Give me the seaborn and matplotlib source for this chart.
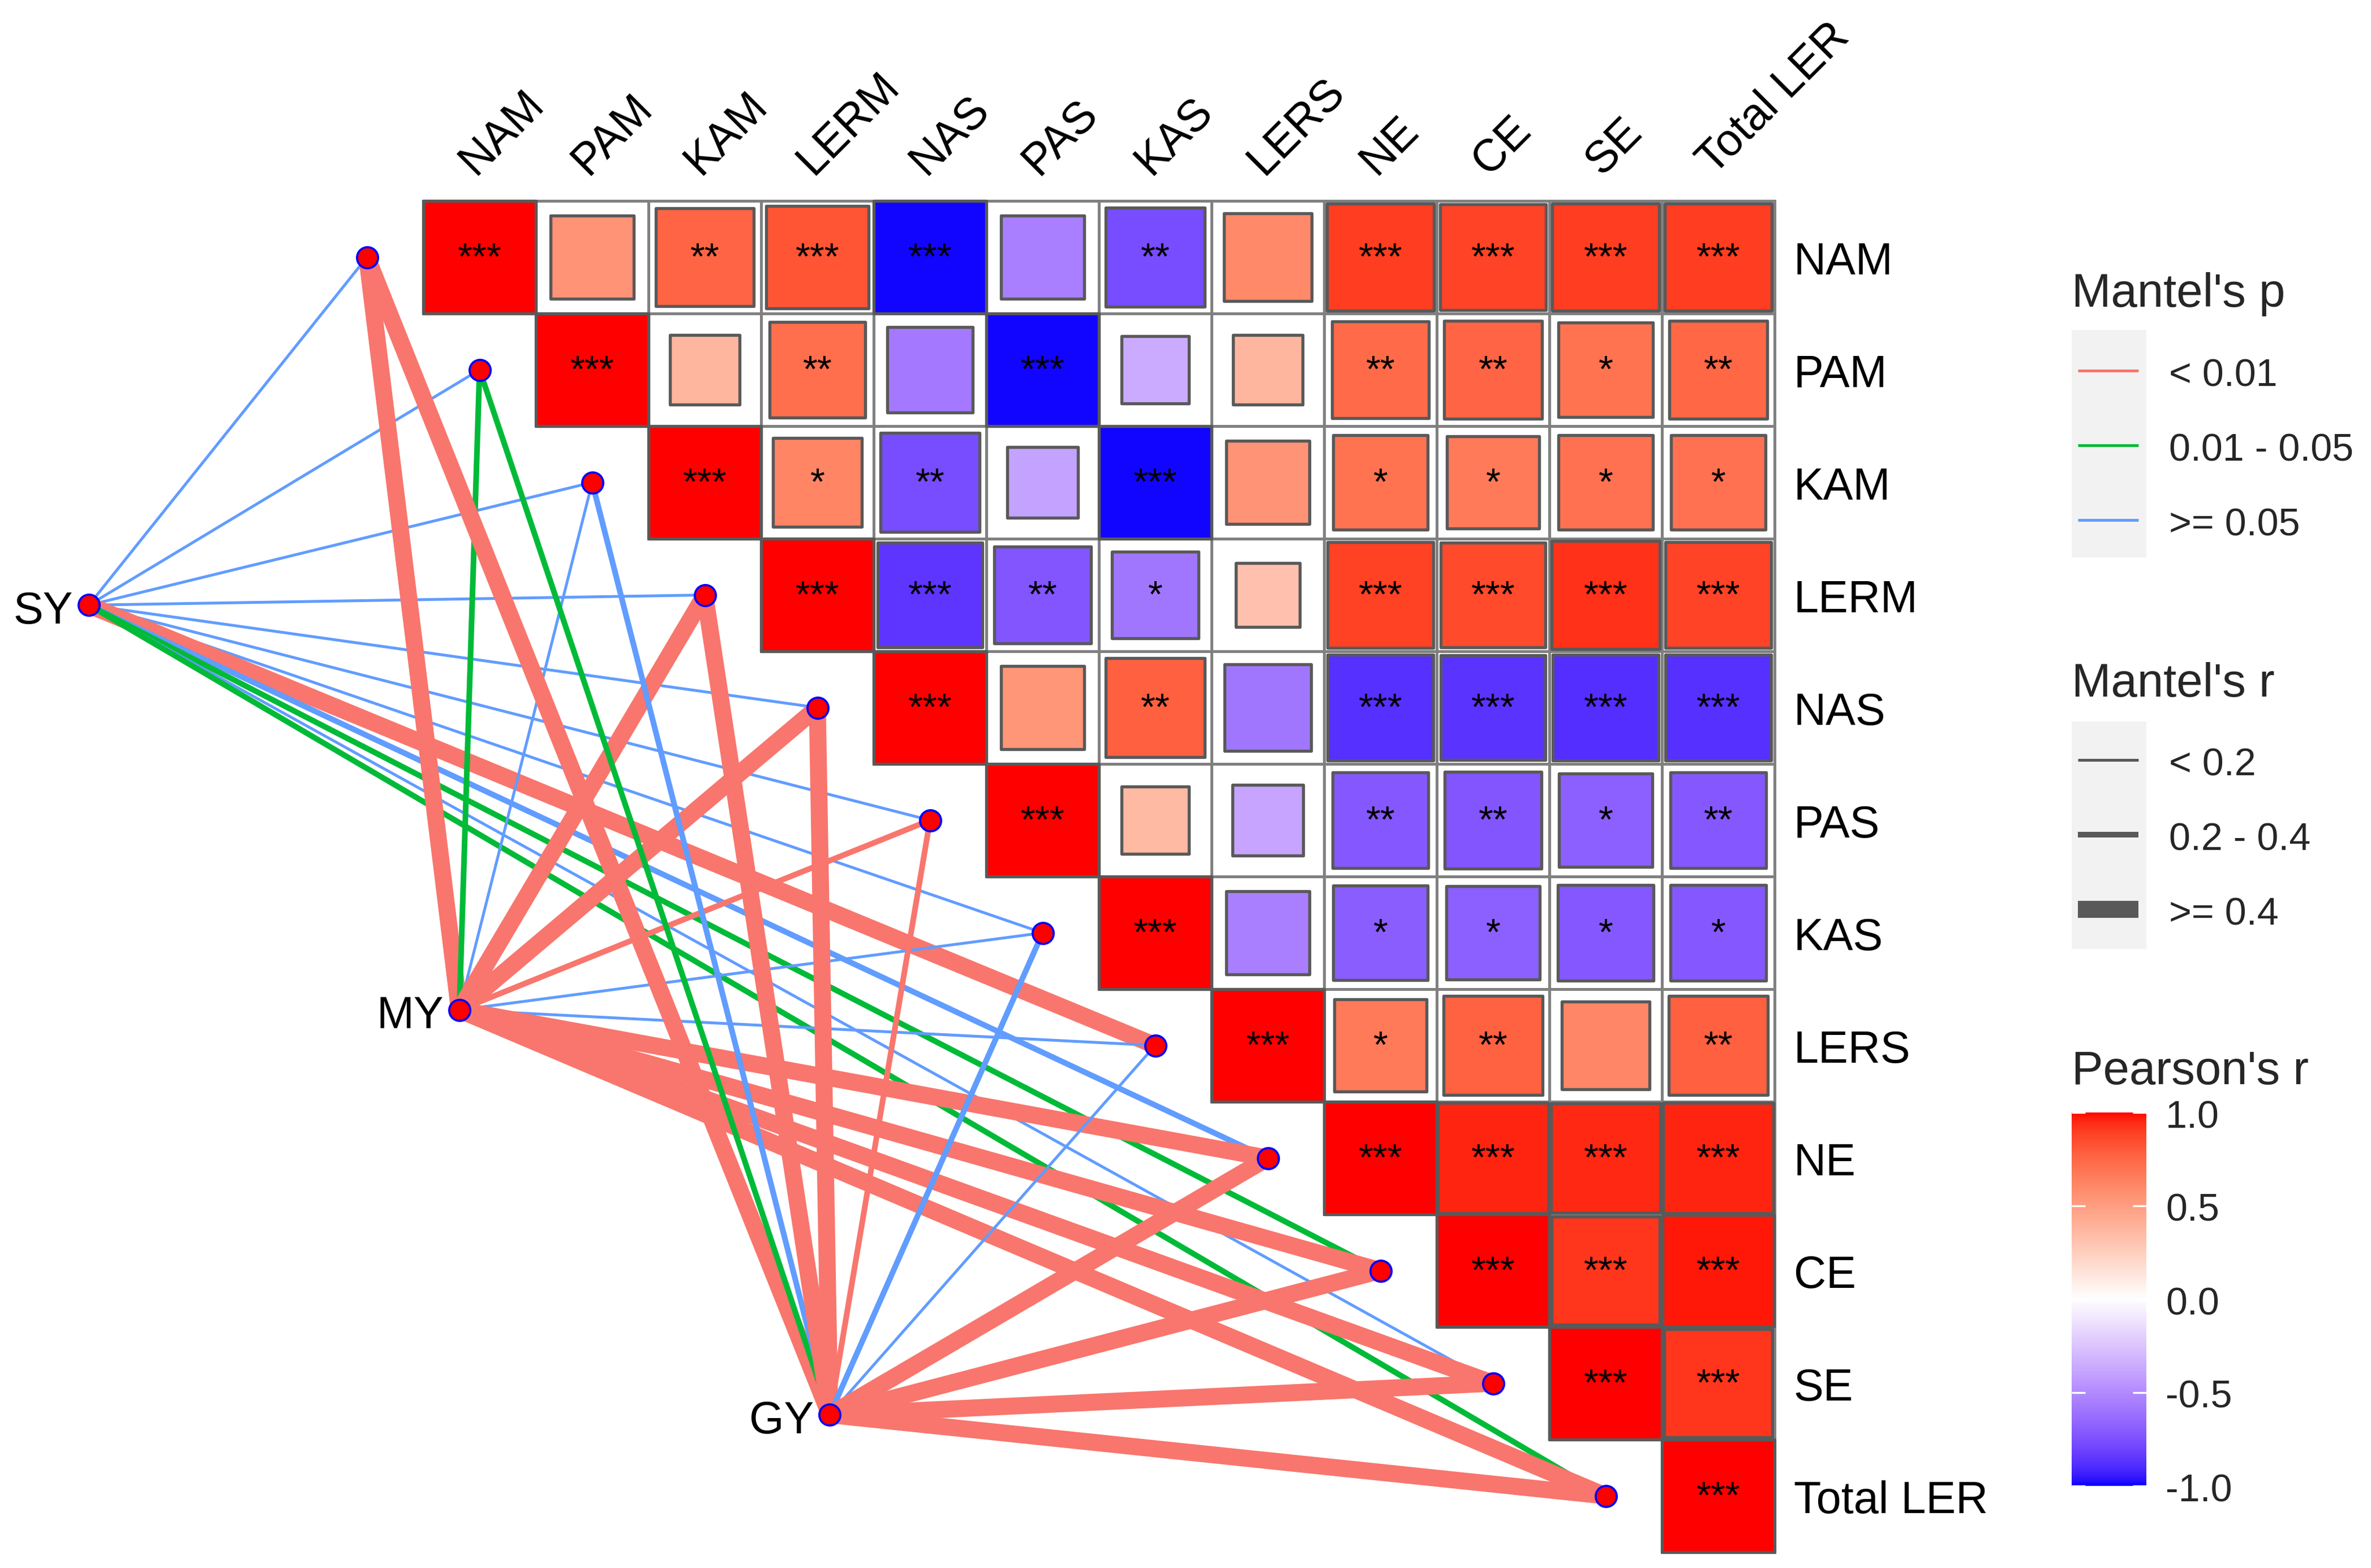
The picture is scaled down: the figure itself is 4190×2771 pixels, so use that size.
import numpy as np
import pandas as pd
import matplotlib
matplotlib.use("Agg")
import matplotlib.pyplot as plt
import seaborn as sns
from matplotlib.colors import ListedColormap, Normalize
from matplotlib.patches import Rectangle

# ------------------------------------------------------------------ data
variables = ["NAM", "PAM", "KAM", "LERM", "NAS", "PAS", "KAS", "LERS",
             "NE", "CE", "SE", "Total LER"]

# Pearson's r, upper triangle: row i starts at the diagonal cell (i, i)
pearson_NAM = [1.00, 0.55, 0.76, 0.82, -0.99, -0.55, -0.77, 0.60, 0.90, 0.88, 0.90, 0.90]
pearson_PAM = [1.00, 0.38, 0.72, -0.58, -0.99, -0.36, 0.38, 0.74, 0.76, 0.70, 0.75]
pearson_KAM = [1.00, 0.62, -0.77, -0.40, -0.99, 0.55, 0.70, 0.67, 0.71, 0.71]
pearson_LERM = [1.00, -0.86, -0.73, -0.59, 0.32, 0.89, 0.86, 0.93, 0.88]
pearson_NAS = [1.00, 0.54, 0.78, -0.59, -0.88, -0.87, -0.89, -0.88]
pearson_PAS = [1.00, 0.36, -0.39, -0.72, -0.73, -0.69, -0.72]
pearson_KAS = [1.00, -0.55, -0.70, -0.69, -0.72, -0.72]
pearson_LERS = [1.00, 0.67, 0.77, 0.61, 0.78]
pearson_NE = [1.00, 0.96, 0.95, 0.96]
pearson_CE = [1.00, 0.92, 0.98]
pearson_SE = [1.00, 0.92]
pearson_TOT = [1.00]

stars_NAM = ["***", "", "**", "***", "***", "", "**", "", "***", "***", "***", "***"]
stars_PAM = ["***", "", "**", "", "***", "", "", "**", "**", "*", "**"]
stars_KAM = ["***", "*", "**", "", "***", "", "*", "*", "*", "*"]
stars_LERM = ["***", "***", "**", "*", "", "***", "***", "***", "***"]
stars_NAS = ["***", "", "**", "", "***", "***", "***", "***"]
stars_PAS = ["***", "", "", "**", "**", "*", "**"]
stars_KAS = ["***", "", "*", "*", "*", "*"]
stars_LERS = ["***", "*", "**", "", "**"]
stars_NE = ["***", "***", "***", "***"]
stars_CE = ["***", "***", "***"]
stars_SE = ["***", "***"]
stars_TOT = ["***"]

env_names = ["SY", "MY", "GY"]
p_levels = ["< 0.01", "0.01 - 0.05", ">= 0.05"]
r_levels = ["< 0.2", "0.2 - 0.4", ">= 0.4"]
P1, P2, P3 = p_levels
R1, R2, R3 = r_levels

mantel_p_SY = [P3, P3, P3, P3, P3, P3, P3, P1, P3, P2, P3, P2]
mantel_r_SY = [R1, R1, R1, R1, R1, R1, R1, R3, R2, R2, R1, R2]
mantel_p_MY = [P1, P2, P3, P1, P1, P1, P3, P3, P1, P1, P1, P1]
mantel_r_MY = [R3, R2, R1, R3, R3, R2, R1, R1, R3, R3, R3, R3]
mantel_p_GY = [P1, P2, P3, P1, P1, P1, P3, P3, P1, P1, P1, P1]
mantel_r_GY = [R3, R2, R2, R3, R3, R2, R2, R1, R3, R3, R3, R3]

colorbar_ticks = [1.0, 0.5, 0.0, -0.5, -1.0]

# ------------------------------------------------------------------ styles
p_colors = {P1: "#F8766D", P2: "#00BA38", P3: "#619CFF"}
r_widths = {R1: 1.2, R2: 2.4, R3: 7.2}
grid_col = "#808080"
edge_col = "#595959"

sns.set_style("white")
plt.rcParams["font.family"] = ["Liberation Sans", "DejaVu Sans"]

# Lab interpolated diverging palette (blue - white - red), like ggplot2
def _srgb2lin(c):
    c = np.asarray(c, float)
    return np.where(c <= 0.04045, c / 12.92, ((c + 0.055) / 1.055) ** 2.4)

def _lin2srgb(c):
    c = np.clip(c, 0, 1)
    return np.where(c <= 0.0031308, 12.92 * c, 1.055 * np.power(c, 1 / 2.4) - 0.055)

_M = np.array([[0.4124, 0.3576, 0.1805], [0.2126, 0.7152, 0.0722], [0.0193, 0.1192, 0.9505]])
_Minv = np.linalg.inv(_M)
_WP = np.array([0.95047, 1.0, 1.08883])

def _f(t):
    d = 6 / 29
    return np.where(t > d ** 3, np.cbrt(t), t / (3 * d * d) + 4 / 29)

def _finv(t):
    d = 6 / 29
    return np.where(t > d, t ** 3, 3 * d * d * (t - 4 / 29))

def to_lab(rgb):
    xyz = _M @ _srgb2lin(rgb) / _WP
    fx, fy, fz = _f(xyz)
    return np.array([116 * fy - 16, 500 * (fx - fy), 200 * (fy - fz)])

def from_lab(lab):
    L, a, b = lab
    fy = (L + 16) / 116
    xyz = np.array([_finv(fy + a / 500), _finv(fy), _finv(fy - b / 200)]) * _WP
    return _lin2srgb(_Minv @ xyz)

lab_w, lab_r, lab_b = to_lab([1, 1, 1]), to_lab([1, 0, 0]), to_lab([0, 0, 1])
vals = np.linspace(-1, 1, 511)
cols = []
for v in vals:
    end = lab_r if v >= 0 else lab_b
    cols.append(np.clip(from_lab(lab_w + abs(v) * (end - lab_w)), 0, 1))
cmap = ListedColormap(cols)

# ------------------------------------------------------------------ figure
W, H, DPI = 4190, 2771, 300
fig = plt.figure(figsize=(W / DPI, H / DPI), dpi=DPI)
fig.patch.set_facecolor("white")

cell = 199.0          # px per matrix cell
mx0, my0 = 748, 355   # top-left of the matrix in px
ax = fig.add_axes([0, 0, 1, 1])
ax.axis("off")

n = len(variables)
pearson_rows = [pearson_NAM, pearson_PAM, pearson_KAM, pearson_LERM, pearson_NAS,
                pearson_PAS, pearson_KAS, pearson_LERS, pearson_NE, pearson_CE,
                pearson_SE, pearson_TOT]
star_rows = [stars_NAM, stars_PAM, stars_KAM, stars_LERM, stars_NAS, stars_PAS,
             stars_KAS, stars_LERS, stars_NE, stars_CE, stars_SE, stars_TOT]

recs = []
for i, (rr, ss) in enumerate(zip(pearson_rows, star_rows)):
    for k, (r, s) in enumerate(zip(rr, ss)):
        j = i + k
        recs.append(dict(row=i, col=j, x=j + 0.5, y=i + 0.5, r=r, absr=abs(r), star=s))
cells = pd.DataFrame(recs)

# grid
for _, c in cells.iterrows():
    ax.add_patch(Rectangle((c.col, c.row), 1, 1, fill=False, ec=grid_col, lw=1.2, zorder=1))

cell_pt = cell * 72 / DPI
sns.scatterplot(data=cells, x="x", y="y", hue="r", palette=cmap, hue_norm=(-1, 1),
                size="absr", sizes=(0, cell_pt ** 2), size_norm=(0, 1), marker="s",
                edgecolor=edge_col, linewidth=1.3, legend=False, ax=ax, zorder=3)

for _, c in cells.iterrows():
    if c.star:
        ax.text(c.x, c.y + 0.02, c.star, ha="center", va="center", fontsize=16,
                color="black", zorder=4)

# ------------------------------------------------------------------ mantel links
env_x = np.linspace(-2.97, 3.61, len(env_names))
env_y = np.linspace(3.59, 10.78, len(env_names))
var_x = np.arange(n) - 0.5
var_y = np.arange(n) + 0.5

mantel_p = [mantel_p_SY, mantel_p_MY, mantel_p_GY]
mantel_r = [mantel_r_SY, mantel_r_MY, mantel_r_GY]
for e in range(len(env_names)):
    for k in range(n):
        ax.plot([env_x[e], var_x[k]], [env_y[e], var_y[k]],
                color=p_colors[mantel_p[e][k]], lw=r_widths[mantel_r[e][k]],
                solid_capstyle="butt", zorder=2)

nodes = pd.DataFrame({"x": np.concatenate([var_x, env_x]),
                      "y": np.concatenate([var_y, env_y])})
sns.scatterplot(data=nodes, x="x", y="y", color="#FF0000", edgecolor="#0000FF",
                s=80, linewidth=0.9, legend=False, ax=ax, zorder=6)

for e, name in enumerate(env_names):
    ax.text(env_x[e] - 0.14, env_y[e] + 0.06, name, ha="right", va="center",
            fontsize=19, color="black", zorder=7)

# axis labels
for j, name in enumerate(variables):
    ax.text(j + 0.52, -0.16, name, rotation=45, rotation_mode="anchor",
            ha="left", va="bottom", fontsize=19, color="black")
for i, name in enumerate(variables):
    ax.text(n + 0.17, i + 0.55, name, ha="left", va="center", fontsize=19, color="black")

ax.set_xlim(-mx0 / cell, (W - mx0) / cell)
ax.set_ylim((H - my0) / cell, -my0 / cell)

# ------------------------------------------------------------------ legends
lax = fig.add_axes([0, 0, 1, 1], zorder=10)
lax.set_xlim(0, W)
lax.set_ylim(H, 0)
lax.axis("off")

LX = 3661
KW = 132
title_fs, lab_fs = 20, 16.4
dy_txt = 9

lax.text(LX, 511 + dy_txt, "Mantel's p", ha="left", va="center", fontsize=title_fs)
lax.add_patch(Rectangle((LX, 583), KW, 3 * 134, fc="#F2F2F2", ec="none"))
for k, lev in enumerate(p_levels):
    y = 655 + 132 * k
    lax.plot([LX + 11, LX + 118], [y, y], color=p_colors[lev], lw=1.2, solid_capstyle="butt")
    lax.text(3833, y + dy_txt, lev, ha="left", va="center", fontsize=lab_fs)

lax.text(LX, 1200 + dy_txt, "Mantel's r", ha="left", va="center", fontsize=title_fs)
lax.add_patch(Rectangle((LX, 1275), KW, 3 * 134, fc="#F2F2F2", ec="none"))
for k, lev in enumerate(r_levels):
    y = 1343 + 132 * k
    lax.plot([LX + 11, LX + 118], [y, y], color=edge_col, lw=r_widths[lev], solid_capstyle="butt")
    lax.text(3833, y + dy_txt, lev, ha="left", va="center", fontsize=lab_fs)

lax.text(LX, 1885 + dy_txt, "Pearson's r", ha="left", va="center", fontsize=title_fs)
cb_top, cb_bot = 1966, 2626
cax = fig.add_axes([LX / W, 1 - cb_bot / H, KW / W, (cb_bot - cb_top) / H])
grad = np.linspace(-1, 1, 256).reshape(-1, 1)
cax.imshow(grad, aspect="auto", cmap=cmap, vmin=-1, vmax=1, origin="lower",
           extent=[0, 1, -1, 1])
cax.set_xlim(0, 1)
cax.set_ylim(-1, 1)
cax.axis("off")
for v in colorbar_ticks:
    cax.plot([0, 0.18], [v, v], color="white", lw=0.8, solid_capstyle="butt")
    cax.plot([0.82, 1], [v, v], color="white", lw=0.8, solid_capstyle="butt")
    ypx = cb_top + (1 - v) / 2 * (cb_bot - cb_top)
    lax.text(3827, ypx + dy_txt, f"{v:.1f}", ha="left", va="center", fontsize=lab_fs)

fig.savefig("out.png", dpi=DPI, facecolor="white")
